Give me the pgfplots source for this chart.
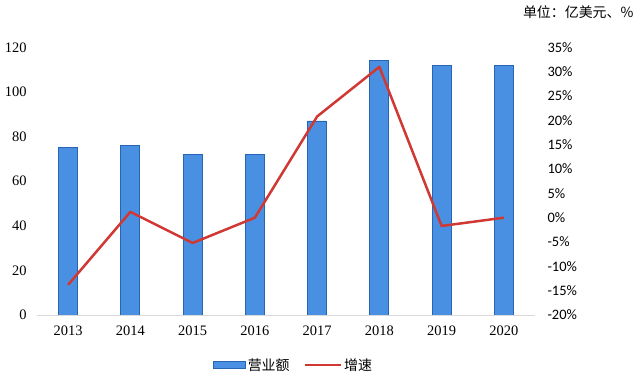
\documentclass[border=0pt]{standalone}
\usepackage{fontspec}
\setmainfont{Liberation Serif}
\newfontfamily\cjk{Noto Sans CJK SC}
\newfontfamily\calfont{Carlito}
\usepackage{pgfplots}
\pgfplotsset{compat=1.18}
\definecolor{barblue}{RGB}{74,144,226}
\definecolor{baredge}{RGB}{40,100,180}
\definecolor{linered}{RGB}{208,56,52}
\begin{document}
\begin{tikzpicture}
\useasboundingbox (0bp,0bp) rectangle (640bp,375bp);
\begin{axis}[at={(37bp,60bp)}, anchor=south west, scale only axis,
  width=498bp, height=267.6bp,
  xmin=-0.5, xmax=7.5, ymin=0, ymax=120,
  ytick={0,20,...,120}, xtick={0,...,7},
  xticklabels={2013,2014,2015,2016,2017,2018,2019,2020},
  axis x line*=bottom, axis y line*=left,
  y axis line style={draw=none},
  x axis line style={draw=black!15, line width=1bp},
  major tick length=0pt,
  ticklabel style={font=\fontsize{14.5}{16}\selectfont},
  /pgf/number format/assume math mode=true,
  yticklabel style={xshift=-7bp},
  xticklabel style={yshift=-7bp},
  legend style={at={(0.515,-0.187)}, anchor=center, draw=none, fill=none,
    legend columns=2, font=\cjk\fontsize{14}{16}\selectfont,
    /tikz/every even column/.append style={column sep=12bp}},
  legend cell align=left,
]
\addplot[ybar, bar width=19bp, fill=barblue, draw=baredge, line width=0.8bp,
  legend image code/.code={\draw[fill=barblue,draw=baredge,line width=0.8bp] (0bp,-3.5bp) rectangle (32bp,3.5bp);}]
  coordinates {(0,75) (1,76) (2,72) (3,72) (4,87) (5,114) (6,112) (7,112)};
\addlegendentry{营业额}
\addlegendimage{legend image code/.code={\draw[linered,line width=2.5bp] (0bp,0bp) -- (36bp,0bp);}}
\addlegendentry{增速}
\end{axis}
\begin{axis}[at={(37bp,60bp)}, anchor=south west, scale only axis,
  width=498bp, height=267.6bp,
  xmin=-0.5, xmax=7.5, ymin=-20, ymax=35,
  ytick={-20,-15,...,35},
  yticklabels={-20\%,-15\%,-10\%,-5\%,0\%,5\%,10\%,15\%,20\%,25\%,30\%,35\%},
  axis x line=none, axis y line*=right,
  y axis line style={draw=none},
  major tick length=0pt,
  yticklabel style={font=\calfont\fontsize{14.5}{16}\selectfont, xshift=9bp},
]
\addplot[linered, line width=2.5bp, mark=none, line join=round]
  coordinates {(0,-13.8) (1,1.2) (2,-5.2) (3,0.0) (4,20.8) (5,31.0) (6,-1.7) (7,0.0)};
\end{axis}
\node[anchor=east, font=\cjk\fontsize{14}{16}\selectfont] at (637bp,363bp) {单位：亿美元、\%};
\end{tikzpicture}
\end{document}
